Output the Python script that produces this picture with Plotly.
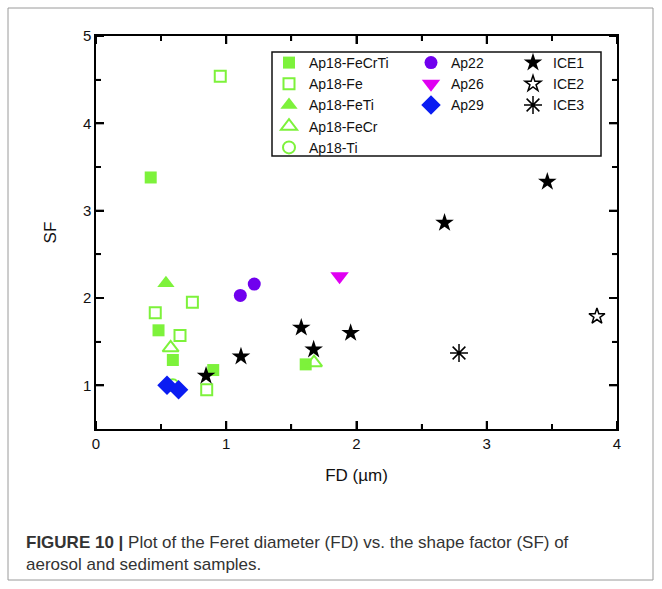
import plotly.graph_objects as go

# ---------------- data (FD in µm, SF) ----------------
fecrti_x = [0.42, 0.48, 0.59, 0.90, 1.61]
fecrti_y = [3.38, 1.63, 1.29, 1.175, 1.24]
fe_x = [0.74, 0.455, 0.645, 0.85, 0.954]
fe_y = [1.95, 1.83, 1.57, 0.95, 4.54]
feti_x = [0.537]
feti_y = [2.17]
fecr_x = [0.573, 1.674]
fecr_y = [1.43, 1.26]
ti_x = [0.59]
ti_y = [1.0]
ap22_x = [1.108, 1.215]
ap22_y = [2.03, 2.16]
ap26_x = [1.87]
ap26_y = [2.25]
ap29_x = [0.545, 0.634]
ap29_y = [1.0, 0.95]
ice1_x = [0.845, 1.113, 1.576, 1.671, 1.955, 2.676, 3.465]
ice1_y = [1.11, 1.33, 1.66, 1.41, 1.60, 2.86, 3.33]
ice2_x = [3.846]
ice2_y = [1.79]
ice3_x = [2.787]
ice3_y = [1.37]

major_ticks_x = [0, 1, 2, 3, 4]
major_ticks_y = [1, 2, 3, 4, 5]
minor_ticks_x = [0.5, 1.5, 2.5, 3.5]
minor_ticks_y = [1.5, 2.5, 3.5, 4.5]

GREEN = "#7df23b"
PURPLE = "#7000ee"
MAGENTA = "#e000f2"
BLUE = "#0a1cf2"
BLACK = "#000000"

FONT = "Liberation Sans, Arial, Helvetica, sans-serif"

fig = go.Figure()

def add(x, y, name, symbol, color, size, legend, lw=0):
    fig.add_trace(go.Scatter(
        x=x, y=y, mode="markers", name=name, legend=legend,
        marker=dict(symbol=symbol, color=color, size=size,
                    line=dict(color=color, width=lw)),
    ))

add(fecrti_x, fecrti_y, "Ap18-FeCrTi", "square", GREEN, 12, "legend")
add(fe_x, fe_y, "Ap18-Fe", "square-open", GREEN, 11, "legend", 2)
add(feti_x, feti_y, "Ap18-FeTi", "triangle-up", GREEN, 15, "legend")
add(fecr_x, fecr_y, "Ap18-FeCr", "triangle-up-open", GREEN, 14, "legend", 2)
add(ti_x, ti_y, "Ap18-Ti", "circle-open", GREEN, 12, "legend", 2)
add(ap22_x, ap22_y, "Ap22", "circle", PURPLE, 13, "legend2")
add(ap26_x, ap26_y, "Ap26", "triangle-down", MAGENTA, 16, "legend2")
add(ap29_x, ap29_y, "Ap29", "diamond", BLUE, 15, "legend2")
add(ice1_x, ice1_y, "ICE1", "star", BLACK, 14, "legend3")
add(ice2_x, ice2_y, "ICE2", "star-open", BLACK, 12, "legend3", 1.5)
add(ice3_x, ice3_y, "ICE3", "asterisk-open", BLACK, 15, "legend3", 1.5)

L, R, T, B = 96, 45, 36, 160
PW = 662 - L - R
PH = 589 - T - B

def px_x(px):
    return (px - L) / PW

def px_y(py):
    return (589 - B - py) / PH

leg_common = dict(xanchor="left", yanchor="top", bgcolor="rgba(0,0,0,0)",
                  borderwidth=0, font=dict(family=FONT, size=14, color="#111"),
                  traceorder="normal")

base_axis = dict(showline=True, linecolor="black", linewidth=1.5, mirror="allticks",
                 ticks="inside", ticklen=8, tickwidth=2, tickcolor="black",
                 showgrid=False, zeroline=False,
                 tickfont=dict(family=FONT, size=15, color="#111"),
                 minor=dict(ticks="inside", ticklen=5, tickwidth=1.5, tickcolor="black",
                            dtick=0.5, showgrid=False))

fig.update_layout(
    width=662, height=589,
    margin=dict(l=L, r=R, t=T, b=B),
    paper_bgcolor="white", plot_bgcolor="white",
    font=dict(family=FONT, color="#111"),
    legend=dict(x=px_x(269), y=px_y(47), **leg_common),
    legend2=dict(x=px_x(411), y=px_y(47), **leg_common),
    legend3=dict(x=px_x(513), y=px_y(47), **leg_common),
    showlegend=True,
    xaxis=dict(range=[0, 4], tickvals=major_ticks_x,
               title=dict(text="FD (µm)", font=dict(family=FONT, size=17, color="#111"), standoff=18),
               **base_axis),
    yaxis=dict(range=[0.5, 5], tickvals=major_ticks_y,
               title=dict(text="SF", font=dict(family=FONT, size=17, color="#111"), standoff=22),
               **base_axis),
)

# tick marks also drawn as pixel-sized shapes anchored on the four axis lines
def xtick(v, length, width):
    for anchor, sign in ((0, 1), (1, -1)):
        fig.add_shape(type="line", xref="x", yref="paper", ysizemode="pixel", yanchor=anchor,
                      x0=v, x1=v, y0=0, y1=sign * length,
                      line=dict(color="black", width=width), layer="above")

def ytick(v, length, width):
    for anchor, sign in ((0, 1), (1, -1)):
        fig.add_shape(type="line", xref="paper", yref="y", xsizemode="pixel", xanchor=anchor,
                      y0=v, y1=v, x0=0, x1=sign * length,
                      line=dict(color="black", width=width), layer="above")

for v in major_ticks_x:
    xtick(v, 8, 2)
for v in minor_ticks_x:
    xtick(v, 5, 1.5)
for v in major_ticks_y:
    ytick(v, 8, 2)
for v in minor_ticks_y:
    ytick(v, 5, 1.5)

# legend frame
fig.add_shape(type="rect", xref="paper", yref="paper",
              x0=px_x(272), x1=px_x(601), y0=px_y(156), y1=px_y(52),
              line=dict(color="#111", width=1.5), fillcolor="rgba(0,0,0,0)", layer="above")
# outer figure frame
fig.add_shape(type="rect", xref="paper", yref="paper",
              x0=px_x(8), x1=px_x(653), y0=px_y(580), y1=px_y(8),
              line=dict(color="#9a9a9a", width=1), fillcolor="rgba(0,0,0,0)")

fig.add_annotation(
    xref="paper", yref="paper", x=px_x(24), y=px_y(531), xanchor="left", yanchor="top",
    align="left", showarrow=False,
    text="<b>FIGURE 10 |</b> Plot of the Feret diameter (FD) vs. the shape factor (SF) of<br>aerosol and sediment samples.",
    font=dict(family=FONT, size=17, color="#333"),
)

fig.write_html("out.html")
